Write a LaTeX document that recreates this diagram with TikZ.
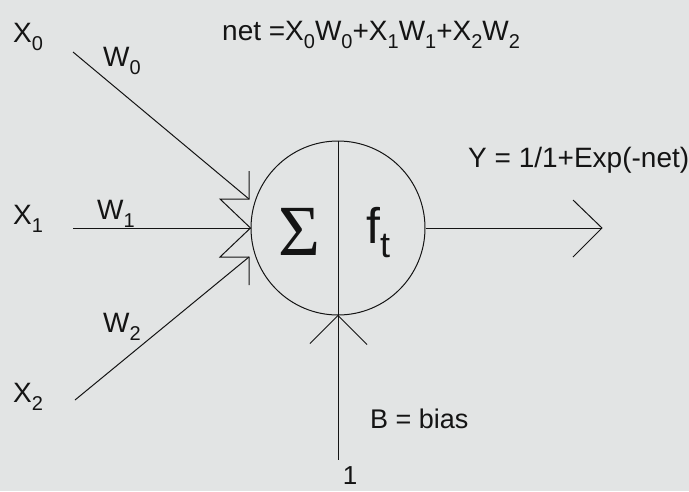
\documentclass[tikz,border=0pt]{standalone}
\usepackage{fontspec}
\usetikzlibrary{calc}
\setmainfont{Liberation Sans}
\newfontfamily\serifsym{Liberation Serif}
\definecolor{paper}{RGB}{226,228,228}
\definecolor{ink}{RGB}{20,20,20}
\newcommand\lsub[1]{\raisebox{-8pt}{\fontsize{20}{20}\selectfont #1}}
\begin{document}
\begin{tikzpicture}[x=1pt,y=-1pt,
  wire/.style={draw=ink, line width=1pt},
  lbl/.style={inner sep=0pt, anchor=base west, text=ink, font=\fontsize{28}{30}\selectfont},
  big/.style={inner sep=0pt, anchor=base west, text=ink, font=\fontsize{28}{30}\selectfont}]
\fill[paper] (0,0) rectangle (689,491);
\useasboundingbox (0,0) rectangle (689,491);

% neuron body
\node[circle, draw=ink, line width=1pt, minimum size=174pt, inner sep=0pt] (n) at (338,228) {};
\coordinate (bot) at (338,460);
\draw[wire] (n.north) -- (bot);
\node[inner sep=0pt, text=ink, anchor=base, font=\serifsym\fontsize{72}{72}\selectfont] (sig) at (299,255) {Σ};
\node[inner sep=0pt, text=ink, anchor=base west] (ft) at (366,243) {\fontsize{50}{50}\selectfont f\raisebox{-14pt}{\fontsize{36}{36}\selectfont t}};

% input start points and tips
\coordinate (s0) at (73,52);
\coordinate (s1) at (73,228);
\coordinate (s2) at (75,400);
\coordinate (t0) at (249,199);
\coordinate (t1) at (n.west);
\coordinate (t2) at (249,257);
\coordinate (oend) at (602,228);

\draw[wire] (s0) -- (t0);
\draw[wire] (s1) -- (t1);
\draw[wire] (s2) -- (t2);
% arrowheads of inputs
\draw[wire] ($(t0)+(0,-28)$) -- (t0) -- ($(t0)+(-29,0)$) -- (t1) -- ($(t2)+(-29,0)$) -- (t2) -- ($(t2)+(0,28)$);
% output
\draw[wire] (n.east) -- (oend);
\draw[wire] ($(oend)+(-29,-28)$) -- (oend) -- ($(oend)+(-29,29)$);
% bias arrowhead
\draw[wire] ($(n.south)+(-28,28)$) -- (n.south) -- ($(n.south)+(29,29)$);

% labels
\node[lbl] (x0) at (13,42) {X\lsub{0}};
\node[lbl] (x1) at (13,224) {X\lsub{1}};
\node[lbl] (x2) at (13,402) {X\lsub{2}};
\node[lbl] (w0) at (103,66) {W\lsub{0}};
\node[lbl] (w1) at (97,219) {W\lsub{1}};
\node[lbl] (w2) at (103,332) {W\lsub{2}};
\node[lbl] (net) at (222,40) {net =X\lsub{0}W\lsub{0}+X\lsub{1}W\lsub{1}+X\lsub{2}W\lsub{2}};
\node[big] (y) at (468,167) {Y = 1/1+Exp(-net)};
\node[lbl, font=\fontsize{27}{30}\selectfont] (b) at (370,428) {B = bias};
\node[big, anchor=base, font=\fontsize{26}{28}\selectfont] (one) at (350,484) {1};
\end{tikzpicture}
\end{document}
